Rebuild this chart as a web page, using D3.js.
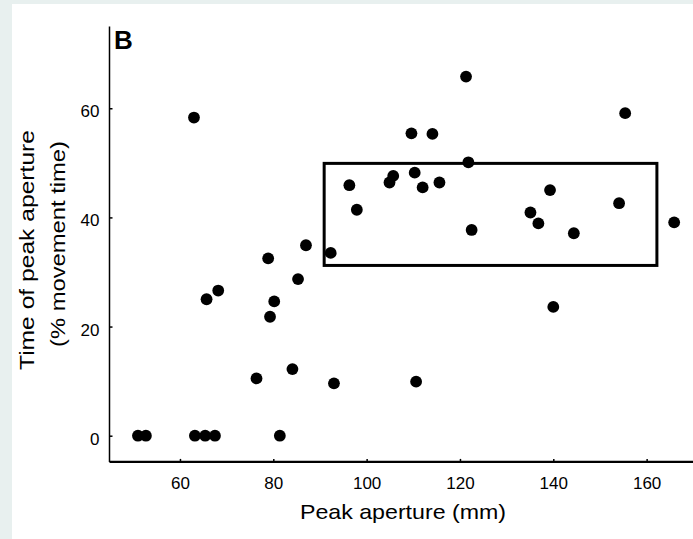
<!DOCTYPE html>
<html>
<head>
<meta charset="utf-8">
<script src="https://cdn.jsdelivr.net/npm/d3@7"></script>
<style>
  html, body { margin: 0; padding: 0; background: #e8f0ef; }
  svg { display: block; }
  text { font-family: "Liberation Sans", Arial, Helvetica, sans-serif; fill: #000; }
</style>
</head>
<body>
<script>
// ---- data ----
const apertureMm = [51.0, 52.7, 63.2, 65.4, 67.5, 81.4,
  76.4, 84.1, 93.0, 110.6, 140.0,
  79.3, 80.2, 65.7, 68.2, 85.3, 78.9, 87.0, 92.3,
  63.0,
  96.3, 97.9, 104.9, 105.7, 110.3, 112.0, 115.6, 109.6, 114.1, 121.3, 121.8, 122.5,
  135.1, 136.8, 139.3, 144.4, 154.1, 155.4, 165.9];
const timePct = [0, 0, 0, 0, 0, 0,
  10.5, 12.2, 9.6, 9.9, 23.6,
  21.8, 24.6, 25.0, 26.6, 28.7, 32.5, 34.9, 33.5,
  58.3,
  45.9, 41.4, 46.4, 47.6, 48.2, 45.5, 46.4, 55.4, 55.3, 65.8, 50.1, 37.7,
  40.9, 38.9, 45.0, 37.1, 42.6, 59.1, 39.1];
const xTicks = [60, 80, 100, 120, 140, 160];
const yTicks = [0, 20, 40, 60];
const boxX = [90.9, 162.2];
const boxY = [31.2, 49.9];
const panelLabel = "B";
const xTitle = "Peak aperture (mm)";
const yTitle = ["Time of peak aperture", "(% movement time)"];

// ---- drawing ----
const W = 693, H = 539;
const svg = d3.select("body").append("svg").attr("width", W).attr("height", H);

svg.append("rect").attr("x", 0).attr("y", 0).attr("width", W).attr("height", H).attr("fill", "#e8f0ef");
svg.append("rect").attr("x", 12).attr("y", 4).attr("width", W - 12).attr("height", H - 4).attr("fill", "#ffffff");

const x = d3.scaleLinear().domain([44.9, 170]).range([109.5, 693.3]);
const y = d3.scaleLinear().domain([-4.8, 75]).range([461.9, 26.4]);

// x axis
const xAxis = d3.axisBottom(x).tickValues(xTicks).tickSize(-3).tickPadding(15).tickFormat(d3.format("d"));
const gx = svg.append("g").attr("transform", `translate(0,${y(-4.8)})`).call(xAxis);
gx.select(".domain").attr("stroke-width", 2.2).attr("d", `M${x(44.9)},0H${x(170)}`);
gx.selectAll(".tick line").attr("stroke-width", 1.5);
gx.selectAll(".tick text").attr("font-size", 17).attr("dy", "0.71em")
  .style("font-family", "'Liberation Sans', Arial, sans-serif");

// y axis
const yAxis = d3.axisLeft(y).tickValues(yTicks).tickSize(-3).tickPadding(10).tickFormat(d3.format("d"));
const gy = svg.append("g").attr("transform", `translate(${x(44.9)},0)`).call(yAxis);
gy.select(".domain").attr("stroke-width", 1.5).attr("d", `M0,${y(-4.8)}V${y(75)}`);
gy.selectAll(".tick line").attr("stroke-width", 1.5);
gy.selectAll(".tick text").attr("font-size", 17).attr("dy", "0.5em")
  .style("font-family", "'Liberation Sans', Arial, sans-serif");

// box
svg.append("rect")
  .attr("x", x(boxX[0])).attr("y", y(boxY[1]))
  .attr("width", x(boxX[1]) - x(boxX[0])).attr("height", y(boxY[0]) - y(boxY[1]))
  .attr("fill", "none").attr("stroke", "#000").attr("stroke-width", 3);

// points
const pts = apertureMm.map((a, i) => ({a, t: timePct[i]}));
svg.append("g").selectAll("circle").data(pts).join("circle")
  .attr("cx", d => x(d.a)).attr("cy", d => y(d.t)).attr("r", 5.9).attr("fill", "#000");

// labels
svg.append("text").attr("x", 114).attr("y", 48.5).attr("font-size", 26).attr("font-weight", "bold").text(panelLabel);

svg.append("text").attr("x", 403).attr("y", 518.5).attr("text-anchor", "middle").attr("font-size", 21)
  .attr("textLength", 206).attr("lengthAdjust", "spacingAndGlyphs").text(xTitle);

svg.append("text").attr("transform", "translate(34,250) rotate(-90)").attr("text-anchor", "middle")
  .attr("font-size", 21).attr("textLength", 240).attr("lengthAdjust", "spacingAndGlyphs").text(yTitle[0]);
svg.append("text").attr("transform", "translate(65,244) rotate(-90)").attr("text-anchor", "middle")
  .attr("font-size", 21).attr("textLength", 206).attr("lengthAdjust", "spacingAndGlyphs").text(yTitle[1]);
</script>
</body>
</html>
